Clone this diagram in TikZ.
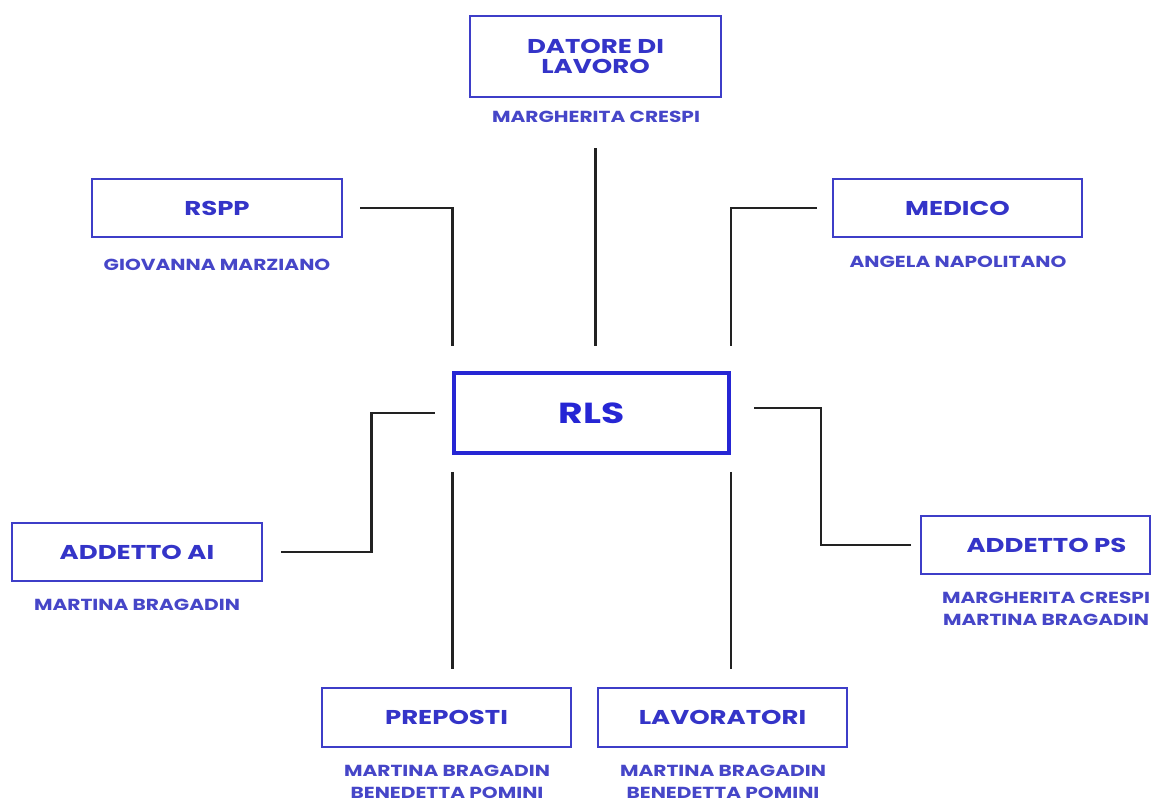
\documentclass[tikz,border=0pt]{standalone}
\usepackage{fontspec}
\setmainfont{Poppins}
\newfontfamily\labfont[FakeStretch=1.3]{Poppins}
\newfontfamily\namfont[FakeStretch=1.26]{Poppins}
\usetikzlibrary{calc}
\definecolor{boxblue}{RGB}{62,62,200}
\definecolor{txtblue}{RGB}{52,52,200}
\definecolor{namblue}{RGB}{70,70,200}
\definecolor{rlsblue}{RGB}{38,38,212}
\definecolor{linegray}{RGB}{34,34,34}
\tikzset{
  rolebox/.style={draw=boxblue, line width=2pt, fill=white, text=txtblue,
    minimum width=250pt, minimum height=58pt, inner sep=0pt, align=center,
    font=\labfont\bfseries\fontsize{20}{20}\selectfont},
  rlsbox/.style={draw=rlsblue, line width=3.5pt, fill=white, text=rlsblue,
    minimum width=275pt, minimum height=80pt, inner sep=0pt,
    font=\labfont\bfseries\fontsize{29}{30}\selectfont},
  namelab/.style={text=namblue, align=center, inner sep=0pt,
    font=\namfont\bfseries\fontsize{16}{22}\selectfont},
  conn/.style={draw=linegray, line width=2.5pt}
}
\begin{document}
\begin{tikzpicture}[x=1pt,y=-1pt]
\useasboundingbox (0,0) rectangle (1161,798);
% boxes
\node[rolebox, minimum width=251pt, minimum height=81pt] (datore) at (595.5,56.5) {DATORE DI\\LAVORO};
\node[rolebox] (rspp) at (217,208) {RSPP};
\node[rolebox, minimum width=249pt] (medico) at (957.5,208) {MEDICO};
\node[rlsbox] (rls) at (591.5,413) {RLS};
\node[rolebox] (ai) at (137,552) {ADDETTO AI};
\node[rolebox, minimum width=229pt] (ps) at (1035.5,545) {\hspace*{22pt}ADDETTO PS};
\node[rolebox, minimum width=249pt, minimum height=59pt] (preposti) at (446.5,717.5) {PREPOSTI};
\node[rolebox, minimum width=249pt, minimum height=59pt] (lavoratori) at (722.5,717.5) {LAVORATORI};
% names
\node[namelab] (datoren) at (596,117) {MARGHERITA CRESPI};
\node[namelab] (rsppn) at (217,265) {GIOVANNA MARZIANO};
\node[namelab] (medicon) at (958,262) {ANGELA NAPOLITANO};
\node[namelab] (ain) at (137,605) {MARTINA BRAGADIN};
\node[namelab] (psn) at (1046,609) {MARGHERITA CRESPI\\MARTINA BRAGADIN};
\node[namelab] (prepostin) at (447,782) {MARTINA BRAGADIN\\BENEDETTA POMINI};
\node[namelab] (lavoratorin) at (723,782) {MARTINA BRAGADIN\\BENEDETTA POMINI};
% connectors
\draw[conn, shorten <=50pt, shorten >=25pt] (datore.south) -- (datore.south |- rls.north);
\draw[conn, shorten <=17pt, shorten >=25pt] (rspp.east) -| (rls.north west);
\draw[conn, shorten <=15pt, shorten >=25pt] (medico.west) -| (rls.north east);
\draw[conn, shorten <=18pt, shorten >=17pt] (ai.east) -| ([xshift=-81pt]rls.west) |- (rls.west);
\draw[conn, shorten <=9pt, shorten >=23pt] (ps.west) -| ([xshift=90pt,yshift=5pt]rls.east) -- ([yshift=5pt]rls.east);
\draw[conn, shorten <=17pt, shorten >=18pt] (rls.south west) -- (rls.south west |- preposti.north);
\draw[conn, shorten <=17pt, shorten >=18pt] (rls.south east) -- (rls.south east |- lavoratori.north);
\end{tikzpicture}
\end{document}
